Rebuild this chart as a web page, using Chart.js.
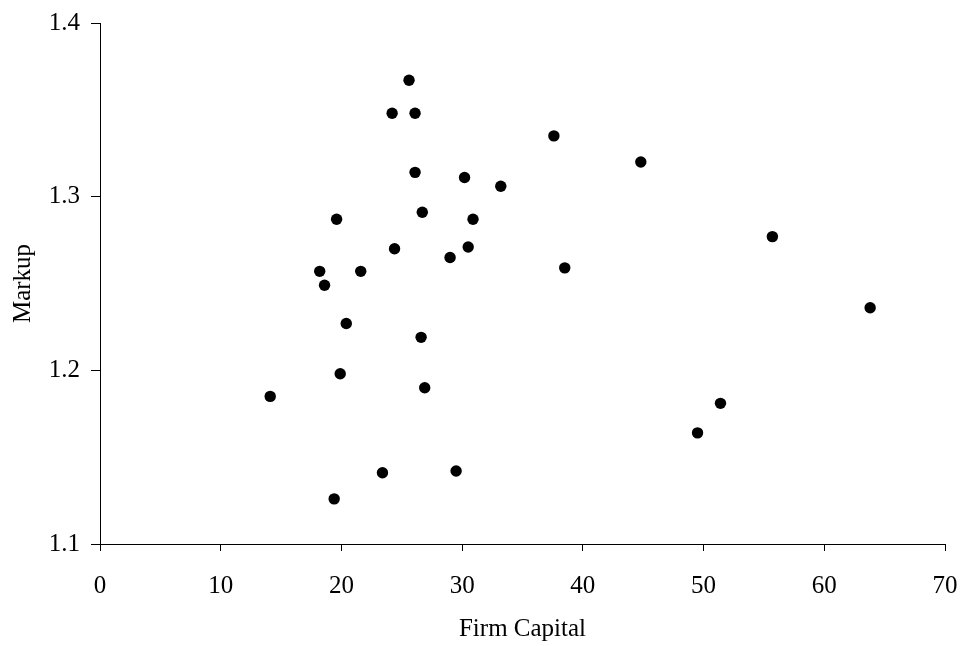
<!DOCTYPE html>
<html>
<head>
<meta charset="utf-8">
<script src="https://cdn.jsdelivr.net/npm/chart.js@4/dist/chart.umd.min.js"></script>
<style>
  html, body { margin: 0; padding: 0; background: #fff; }
  #wrap { width: 962px; height: 646px; }
</style>
</head>
<body>
<div id="wrap"><canvas id="chart" width="962" height="646"></canvas></div>
<script>
// firm capital vs markup
var capital = [25.6, 24.2, 26.1, 37.6, 26.1, 30.2, 33.2, 19.6, 26.7, 30.9,
               24.4, 29.0, 30.5, 18.2, 21.6, 18.6, 20.4, 26.6, 19.9, 26.9,
               14.1, 23.4, 29.5, 19.4, 44.8, 55.7, 38.5, 63.8, 51.4, 49.5];
var markup  = [1.367, 1.348, 1.348, 1.335, 1.314, 1.311, 1.306, 1.287, 1.291, 1.287,
               1.270, 1.265, 1.271, 1.257, 1.257, 1.249, 1.227, 1.219, 1.198, 1.190,
               1.185, 1.141, 1.142, 1.126, 1.320, 1.277, 1.259, 1.236, 1.181, 1.164];
var xTicks = [0, 10, 20, 30, 40, 50, 60, 70];
var yTicks = [1.1, 1.2, 1.3, 1.4];

var points = capital.map(function (c, i) { return { x: c, y: markup[i] }; });

var font = { family: '"Liberation Serif", "Times New Roman", serif', size: 25 };

var ctx = document.getElementById('chart').getContext('2d');
new Chart(ctx, {
    type: 'scatter',
    data: {
        datasets: [{
            label: 'Markup',
            data: points,
            backgroundColor: '#000',
            borderWidth: 0,
            pointRadius: 5.7,
            pointHoverRadius: 5.7
        }]
    },
    options: {
        responsive: false,
        animation: false,
        layout: { padding: { top: 23, right: 17, left: 0, bottom: 0 } },
        plugins: {
            legend: { display: false },
            tooltip: { enabled: false }
        },
        scales: {
            x: {
                type: 'linear',
                min: xTicks[0],
                max: xTicks[xTicks.length - 1],
                afterBuildTicks: function (axis) {
                    axis.ticks = xTicks.map(function (v) { return { value: v }; });
                },
                afterFit: function (axis) {
                    axis.height = 102;
                    axis.paddingLeft = 0;
                    axis.paddingRight = 0;
                },
                border: { display: true, color: '#000', width: 1 },
                grid: { drawOnChartArea: false, drawTicks: true, tickLength: 7, color: '#000' },
                ticks: { color: '#000', font: font, padding: 20, maxRotation: 0 },
                title: { display: true, text: 'Firm Capital', color: '#000', font: font, padding: { top: 0, bottom: 2 } }
            },
            y: {
                type: 'linear',
                min: yTicks[0],
                max: yTicks[yTicks.length - 1],
                afterBuildTicks: function (axis) {
                    axis.ticks = yTicks.map(function (v) { return { value: v }; });
                },
                afterFit: function (axis) {
                    axis.width = 100;
                    axis.paddingTop = 0;
                    axis.paddingBottom = 0;
                },
                border: { display: true, color: '#000', width: 1 },
                grid: { drawOnChartArea: false, drawTicks: true, tickLength: 9, color: '#000' },
                ticks: {
                    color: '#000', font: font, padding: 11,
                    callback: function (v) { return v.toFixed(1); }
                },
                title: { display: true, text: 'Markup', color: '#000', font: font, padding: { top: 8, bottom: 0 } }
            }
        }
    }
});
</script>
</body>
</html>
